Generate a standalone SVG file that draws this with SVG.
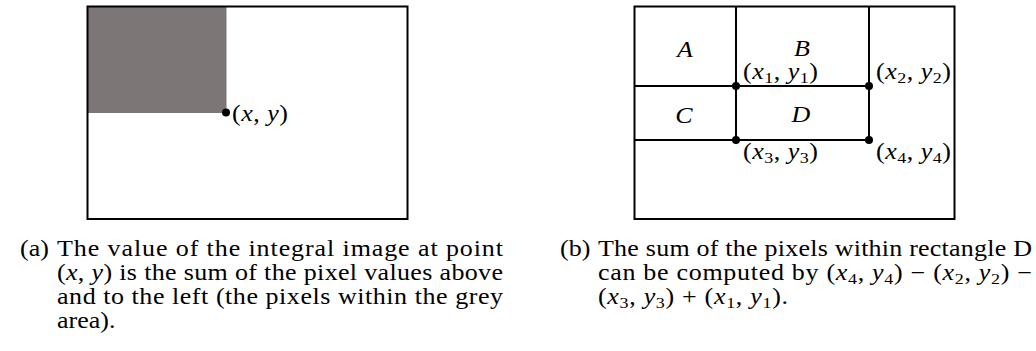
<svg xmlns="http://www.w3.org/2000/svg" width="1036" height="351" viewBox="0 0 1036 351">
<style>
.frame{fill:none;stroke:#000;stroke-width:2}
.ln{stroke:#000;stroke-width:2;fill:none}
.dot{fill:#000}
.lbl{font-family:"Liberation Serif",serif;font-size:26px;fill:#000}
.cap{font-family:"Liberation Serif",serif;font-size:26px;fill:#000}
.i{font-style:italic}
.s{font-size:18px}
</style>
<rect width="1036" height="351" fill="#fff"/>
<g id="panel-a">
  <rect id="grey-area" x="87" y="6" width="139.5" height="107" fill="#7d7676"/>
  <rect class="frame" x="87.5" y="6.5" width="320" height="212.5"/>
  <g id="point-xy">
    <circle class="dot" cx="226" cy="112.5" r="4"/>
    <text class="lbl" transform="translate(232,121) scale(1,0.85)" x="0" y="0" textLength="56" lengthAdjust="spacing">(<tspan class="i">x</tspan>, <tspan class="i">y</tspan>)</text>
  </g>
</g>
<g id="panel-b">
  <rect class="frame" x="634.5" y="6.5" width="320" height="212.5"/>
  <g id="connectors">
    <line class="ln" x1="736" y1="6" x2="736" y2="140"/>
    <line class="ln" x1="869" y1="6" x2="869" y2="140"/>
    <line class="ln" x1="634" y1="86" x2="869" y2="86"/>
    <line class="ln" x1="634" y1="140" x2="869" y2="140"/>
  </g>
  <g id="region-A"><text class="lbl i" transform="translate(685,57) scale(1,0.85)" text-anchor="middle">A</text></g>
  <g id="region-B"><text class="lbl i" transform="translate(802,56) scale(1,0.85)" text-anchor="middle">B</text></g>
  <g id="region-C"><text class="lbl i" transform="translate(684,123) scale(1,0.85)" text-anchor="middle">C</text></g>
  <g id="region-D"><text class="lbl i" transform="translate(801,122) scale(1,0.85)" text-anchor="middle">D</text></g>
  <g id="p1">
    <circle class="dot" cx="736" cy="86" r="4"/>
    <text class="lbl" transform="translate(743,79) scale(1,0.85)" textLength="75" lengthAdjust="spacing">(<tspan class="i">x</tspan><tspan class="s" dy="5">1</tspan><tspan dy="-5">, </tspan><tspan class="i">y</tspan><tspan class="s" dy="5">1</tspan><tspan dy="-5">)</tspan></text>
  </g>
  <g id="p2">
    <circle class="dot" cx="869" cy="86" r="4"/>
    <text class="lbl" transform="translate(876,79) scale(1,0.85)" textLength="75" lengthAdjust="spacing">(<tspan class="i">x</tspan><tspan class="s" dy="5">2</tspan><tspan dy="-5">, </tspan><tspan class="i">y</tspan><tspan class="s" dy="5">2</tspan><tspan dy="-5">)</tspan></text>
  </g>
  <g id="p3">
    <circle class="dot" cx="736" cy="140" r="4"/>
    <text class="lbl" transform="translate(743,159) scale(1,0.85)" textLength="75" lengthAdjust="spacing">(<tspan class="i">x</tspan><tspan class="s" dy="5">3</tspan><tspan dy="-5">, </tspan><tspan class="i">y</tspan><tspan class="s" dy="5">3</tspan><tspan dy="-5">)</tspan></text>
  </g>
  <g id="p4">
    <circle class="dot" cx="869" cy="140" r="4"/>
    <text class="lbl" transform="translate(876,159) scale(1,0.85)" textLength="75" lengthAdjust="spacing">(<tspan class="i">x</tspan><tspan class="s" dy="5">4</tspan><tspan dy="-5">, </tspan><tspan class="i">y</tspan><tspan class="s" dy="5">4</tspan><tspan dy="-5">)</tspan></text>
  </g>
</g>
<g id="caption-a" class="cap" transform="translate(0,256) scale(1,0.86)">
  <text x="20" y="0">(a)</text>
  <text x="57" y="0" textLength="446" lengthAdjust="spacing">The value of the integral image at point</text>
  <text x="57" y="27.91" textLength="446" lengthAdjust="spacing">(<tspan class="i">x</tspan>, <tspan class="i">y</tspan>) is the sum of the pixel values above</text>
  <text x="57" y="55.81" textLength="446" lengthAdjust="spacing">and to the left (the pixels within the grey</text>
  <text x="57" y="83.72">area).</text>
</g>
<g id="caption-b" class="cap" transform="translate(0,256) scale(1,0.86)">
  <text x="560" y="0">(b)</text>
  <text x="598" y="0" textLength="434" lengthAdjust="spacing">The sum of the pixels within rectangle D</text>
  <text x="598" y="27.91" textLength="434" lengthAdjust="spacing">can be computed by (<tspan class="i">x</tspan><tspan class="s" dy="5">4</tspan><tspan dy="-5">, </tspan><tspan class="i">y</tspan><tspan class="s" dy="5">4</tspan><tspan dy="-5">) − (</tspan><tspan class="i">x</tspan><tspan class="s" dy="5">2</tspan><tspan dy="-5">, </tspan><tspan class="i">y</tspan><tspan class="s" dy="5">2</tspan><tspan dy="-5">) −</tspan></text>
  <text x="598" y="55.81" textLength="190" lengthAdjust="spacing">(<tspan class="i">x</tspan><tspan class="s" dy="5">3</tspan><tspan dy="-5">, </tspan><tspan class="i">y</tspan><tspan class="s" dy="5">3</tspan><tspan dy="-5">) + (</tspan><tspan class="i">x</tspan><tspan class="s" dy="5">1</tspan><tspan dy="-5">, </tspan><tspan class="i">y</tspan><tspan class="s" dy="5">1</tspan><tspan dy="-5">).</tspan></text>
</g>
</svg>
